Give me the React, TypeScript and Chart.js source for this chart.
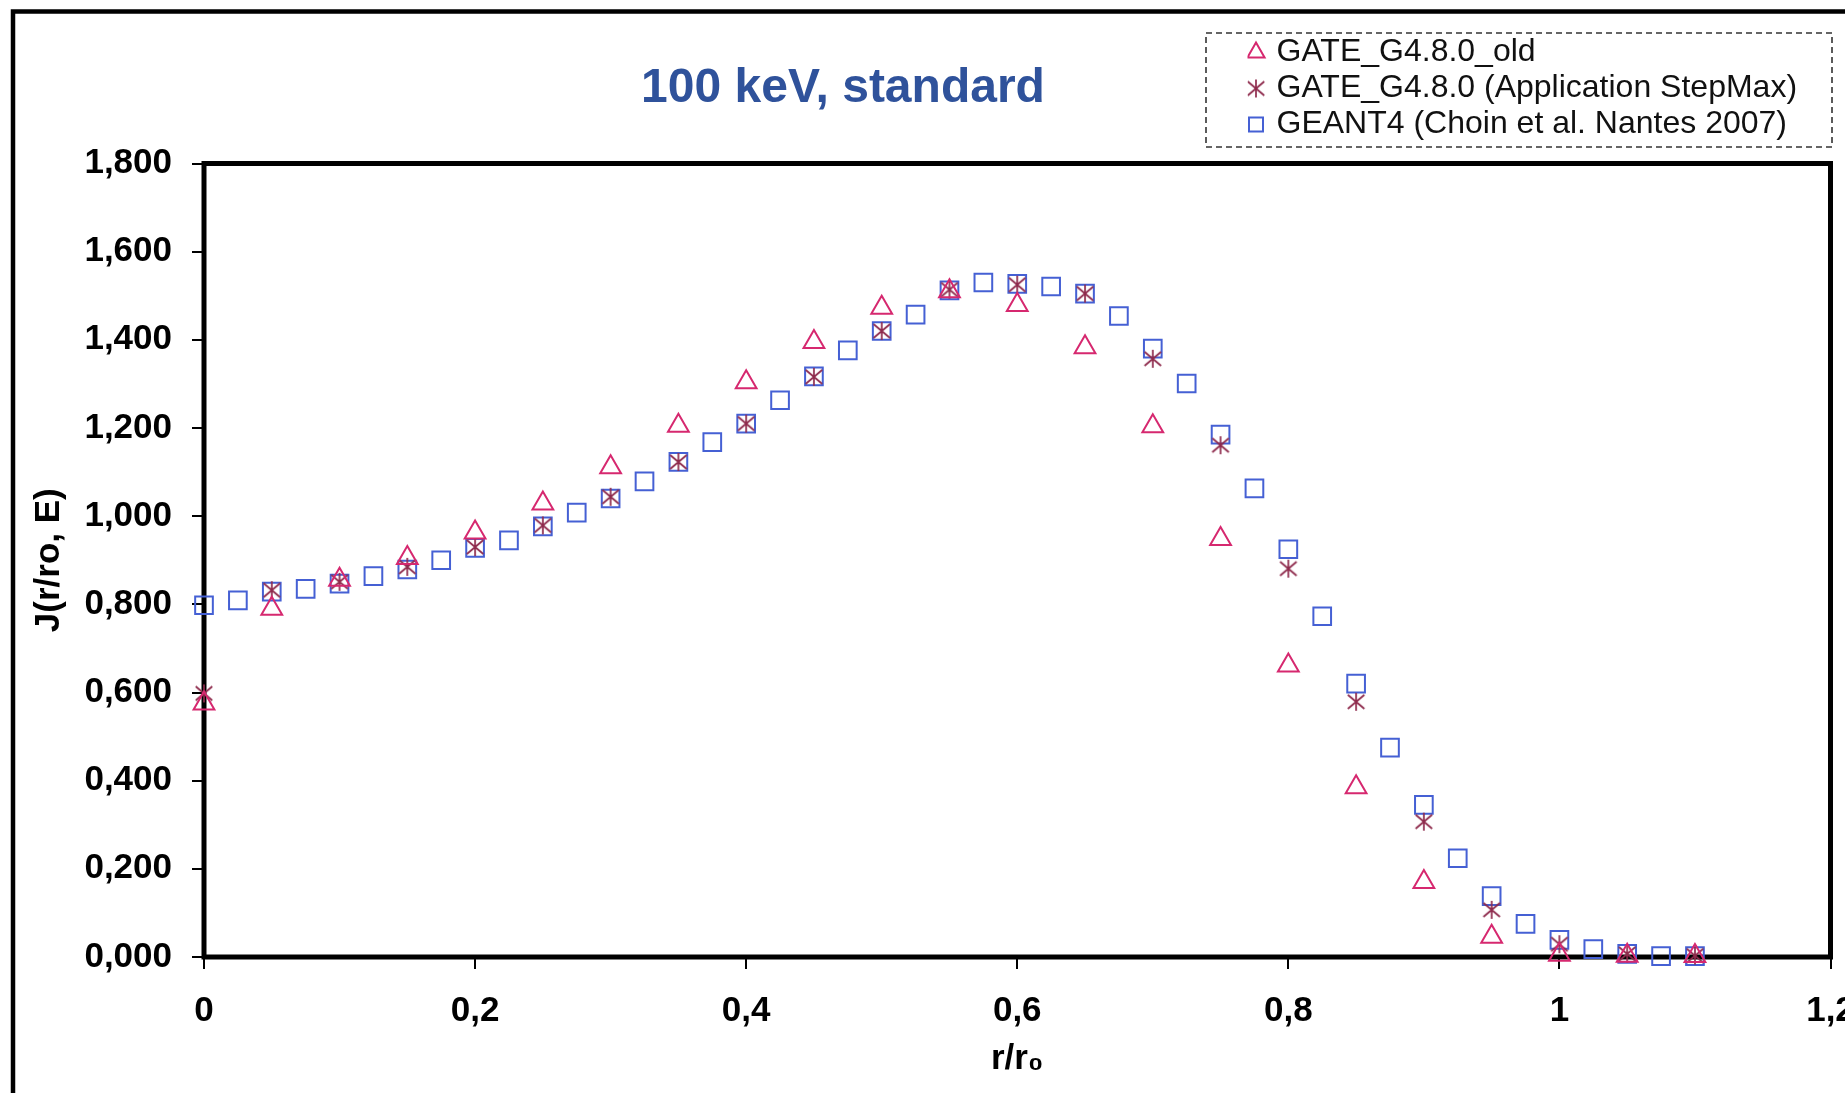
import React, { useEffect, useRef } from 'react';
import { Chart, registerables } from 'chart.js';

Chart.register(...registerables);

// ---------- data ----------
const chartTitle = '100 keV, standard';
const xAxisTitle = 'r/r₀';
const yAxisTitle = 'J(r/ro, E)';
const seriesLabels = [
  'GATE_G4.8.0_old',
  'GATE_G4.8.0 (Application StepMax)',
  'GEANT4 (Choin et al. Nantes 2007)',
];
const xTickLabels = ['0', '0,2', '0,4', '0,6', '0,8', '1', '1,2'];
const yTickLabels = ['0,000', '0,200', '0,400', '0,600', '0,800', '1,000', '1,200', '1,400', '1,600', '1,800'];

const xGate = [0, 0.05, 0.1, 0.15, 0.2, 0.25, 0.3, 0.35, 0.4, 0.45, 0.5, 0.55, 0.6, 0.65, 0.7, 0.75, 0.8, 0.85, 0.9, 0.95, 1.0, 1.05, 1.1];
const yGateOld = [0.575, 0.79, 0.856, 0.905, 0.963, 1.029, 1.111, 1.205, 1.304, 1.395, 1.473, 1.51, 1.479, 1.383, 1.204, 0.948, 0.661, 0.385, 0.17, 0.046, 0.005, 0.003, 0.002];
const yGateStep = [0.598, 0.832, 0.851, 0.885, 0.93, 0.979, 1.044, 1.123, 1.21, 1.316, 1.42, 1.514, 1.525, 1.505, 1.357, 1.161, 0.881, 0.579, 0.307, 0.107, 0.029, 0.007, 0.003];

const xGeant = [0, 0.025, 0.05, 0.075, 0.1, 0.125, 0.15, 0.175, 0.2, 0.225, 0.25, 0.275, 0.3, 0.325, 0.35, 0.375, 0.4, 0.425, 0.45, 0.475, 0.5, 0.525, 0.55, 0.575, 0.6, 0.625, 0.65, 0.675, 0.7, 0.725, 0.75, 0.775, 0.8, 0.825, 0.85, 0.875, 0.9, 0.925, 0.95, 0.975, 1.0, 1.025, 1.05, 1.075, 1.1];
const yGeant = [0.798, 0.809, 0.829, 0.835, 0.847, 0.864, 0.879, 0.9, 0.928, 0.945, 0.977, 1.008, 1.04, 1.079, 1.123, 1.168, 1.21, 1.263, 1.317, 1.376, 1.42, 1.457, 1.512, 1.53, 1.527, 1.521, 1.505, 1.454, 1.38, 1.301, 1.185, 1.063, 0.925, 0.773, 0.62, 0.475, 0.345, 0.224, 0.138, 0.075, 0.039, 0.018, 0.007, 0.002, 0.002];

// ---------- styles ----------
const FONT = '"Liberation Sans", Arial, Helvetica, sans-serif';
const COLOR_OLD = '#D6286F';
const COLOR_STEP = '#8E2A4C';
const COLOR_GEANT = '#4560D4';
const TITLE_COLOR = '#2F529B';

function makeAsterisk(color: string, size: number, lw: number): HTMLCanvasElement {
  const c = document.createElement('canvas');
  c.width = size;
  c.height = size;
  const g = c.getContext('2d')!;
  g.strokeStyle = color;
  g.lineWidth = lw;
  const m = size / 2;
  const r = size / 2 - 1;
  const dx = r * 0.92;
  const dy = r * 0.78;
  g.beginPath();
  g.moveTo(m, m - r);
  g.lineTo(m, m + r);
  g.moveTo(m - dx, m - dy);
  g.lineTo(m + dx, m + dy);
  g.moveTo(m + dx, m - dy);
  g.lineTo(m - dx, m + dy);
  g.stroke();
  return c;
}

const decorPlugin = {
  id: 'decor',
  afterLayout(chart: any) {
    const lg = chart.legend;
    if (lg) {
      lg.left = 1247.5;
      lg.top = 32.5;
      lg.right = 1840;
      lg.bottom = 160;
      lg.width = lg.right - lg.left;
      lg.height = lg.bottom - lg.top;
    }
    const tb = chart.titleBlock;
    if (tb) {
      tb.left = 843 - 420;
      tb.right = 843 + 420;
      tb.width = 840;
    }
  },
  beforeDraw(chart: any) {
    const ctx = chart.ctx;
    ctx.save();
    ctx.fillStyle = '#ffffff';
    ctx.fillRect(0, 0, chart.width, chart.height);
    ctx.strokeStyle = '#000';
    ctx.lineWidth = 4.5;
    ctx.beginPath();
    ctx.moveTo(13, chart.height + 10);
    ctx.lineTo(13, 11.5);
    ctx.lineTo(chart.width + 10, 11.5);
    ctx.stroke();
    ctx.restore();
  },
  beforeDatasetsDraw(chart: any) {
    const ctx = chart.ctx;
    const { left, top, right, bottom } = chart.chartArea;
    ctx.save();
    ctx.strokeStyle = '#000';
    ctx.lineWidth = 5;
    ctx.strokeRect(left, top, right - left, bottom - top);
    ctx.restore();
  },
  afterDraw(chart: any) {
    const ctx = chart.ctx;
    ctx.save();
    ctx.strokeStyle = '#333';
    ctx.lineWidth = 1.6;
    ctx.setLineDash([6, 4]);
    ctx.strokeRect(1206, 33, 626, 114);
    ctx.restore();
  },
};

export default function App() {
  const ref = useRef<HTMLCanvasElement>(null);

  useEffect(() => {
    const canvas = ref.current;
    if (!canvas) return;
    const star = makeAsterisk(COLOR_STEP, 20, 1.7);

    const chart = new Chart(canvas, {
      type: 'scatter',
      data: {
        datasets: [
          {
            label: seriesLabels[0],
            data: xGate.map((x, i) => ({ x, y: yGateOld[i] })),
            pointStyle: 'triangle',
            pointRadius: 12,
            pointBorderWidth: 2,
            borderWidth: 2,
            borderColor: COLOR_OLD,
            backgroundColor: 'rgba(0,0,0,0)',
            pointBackgroundColor: 'rgba(0,0,0,0)',
            pointBorderColor: COLOR_OLD,
            showLine: false,
            clip: false as any,
          },
          {
            label: seriesLabels[1],
            data: xGate.map((x, i) => ({ x, y: yGateStep[i] })),
            pointStyle: star as any,
            pointRadius: 9,
            pointBorderWidth: 2,
            borderWidth: 2,
            borderColor: COLOR_STEP,
            backgroundColor: 'rgba(0,0,0,0)',
            pointBackgroundColor: 'rgba(0,0,0,0)',
            pointBorderColor: COLOR_STEP,
            showLine: false,
            clip: false as any,
          },
          {
            label: seriesLabels[2],
            data: xGeant.map((x, i) => ({ x, y: yGeant[i] })),
            pointStyle: 'rect',
            pointRadius: 12.5,
            pointBorderWidth: 2,
            borderWidth: 2,
            borderColor: COLOR_GEANT,
            backgroundColor: 'rgba(0,0,0,0)',
            pointBackgroundColor: 'rgba(0,0,0,0)',
            pointBorderColor: COLOR_GEANT,
            showLine: false,
            clip: false as any,
          },
        ],
      },
      options: {
        responsive: false,
        animation: false,
        devicePixelRatio: 1,
        layout: { padding: { top: 0, left: 0, right: 0, bottom: 0 } },
        plugins: {
          title: {
            display: true,
            text: chartTitle,
            color: TITLE_COLOR,
            font: { family: FONT, size: 48, weight: 'bold' },
            padding: { top: 59.5, bottom: 46.4 },
          },
          legend: {
            display: true,
            position: 'chartArea' as any,
            align: 'start',
            labels: {
              usePointStyle: true,
              boxWidth: 9,
              boxHeight: 14,
              padding: 4,
              color: '#111',
              font: { family: FONT, size: 32 },
            },
          },
          tooltip: { enabled: false },
        },
        scales: {
          x: {
            type: 'linear',
            min: 0,
            max: 1.2,
            afterFit: (s: any) => {
              s.height = 136;
              s.paddingLeft = 0;
              s.paddingRight = 0;
            },
            border: { display: false },
            grid: {
              drawOnChartArea: false,
              drawTicks: true,
              tickLength: 12,
              color: '#000',
              lineWidth: 2,
            },
            ticks: {
              stepSize: 0.2,
              autoSkip: false,
              maxRotation: 0,
              padding: 21,
              color: '#000',
              font: { family: FONT, size: 35, weight: 'bold' },
              callback: (_v: any, i: number) => xTickLabels[i],
            },
            title: {
              display: true,
              text: xAxisTitle,
              color: '#000',
              font: { family: FONT, size: 35, weight: 'bold' },
              padding: { top: 0, bottom: 13 },
            },
          },
          y: {
            type: 'linear',
            min: 0,
            max: 1.8,
            afterFit: (s: any) => {
              s.width = 204;
              s.paddingTop = 0;
              s.paddingBottom = 0;
            },
            border: { display: false },
            grid: {
              drawOnChartArea: false,
              drawTicks: true,
              tickLength: 12,
              color: '#000',
              lineWidth: 2,
            },
            ticks: {
              stepSize: 0.2,
              autoSkip: false,
              padding: 20,
              color: '#000',
              font: { family: FONT, size: 35, weight: 'bold' },
              callback: (_v: any, i: number) => yTickLabels[i],
            },
            title: {
              display: true,
              text: yAxisTitle,
              color: '#000',
              font: { family: FONT, size: 35, weight: 'bold' },
              padding: { top: 28, bottom: 0 },
            },
          },
        },
      },
      plugins: [decorPlugin],
    } as any);

    return () => chart.destroy();
  }, []);

  return (
    <div style={{ position: 'absolute', left: 0, top: 0, width: 1845, height: 1093, background: '#fff' }}>
      <canvas ref={ref} width={1845} height={1093} style={{ display: 'block', width: 1845, height: 1093 }} />
    </div>
  );
}
